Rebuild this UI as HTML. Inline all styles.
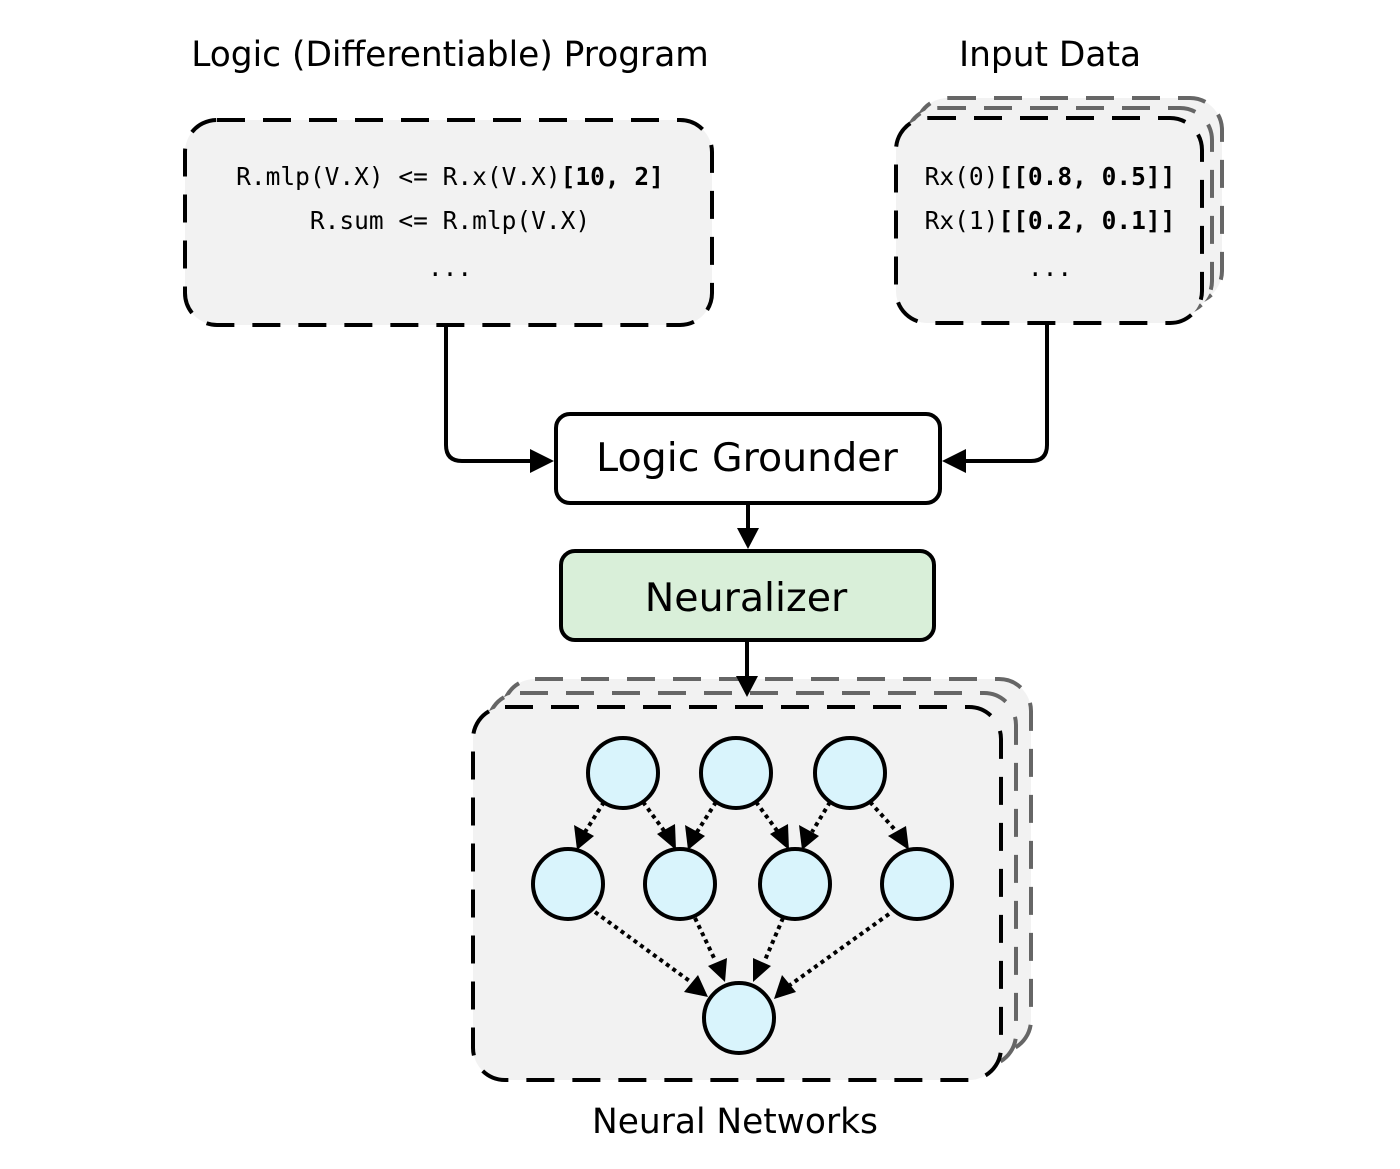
<!DOCTYPE html>
<html><head><meta charset="utf-8"><style>
html,body{margin:0;padding:0;background:#fff;}
svg{display:block;}
.t{font-family:"DejaVu Sans","Liberation Sans",sans-serif;fill:#000;}
.m{font-family:"DejaVu Sans Mono","Liberation Mono",monospace;font-size:24.5px;fill:#000;}
</style></head><body>
<svg width="1400" height="1169" viewBox="0 0 1400 1169" xmlns="http://www.w3.org/2000/svg">
<rect width="1400" height="1169" fill="#fff"/>
<text class="t" x="450" y="66" font-size="34.4" text-anchor="middle">Logic (Differentiable) Program</text>
<text class="t" x="1050" y="66" font-size="34.4" text-anchor="middle">Input Data</text>
<text class="t" x="735" y="1133" font-size="34.4" text-anchor="middle">Neural Networks</text>

<rect x="185" y="120" width="527" height="205" rx="32" fill="#f2f2f2" stroke="#000" stroke-width="4" stroke-dasharray="28 18"/>
<text class="m" x="450" y="185" text-anchor="middle">R.mlp(V.X) &lt;= R.x(V.X)<tspan font-weight="bold">[10, 2]</tspan></text>
<text class="m" x="450" y="229" text-anchor="middle">R.sum &lt;= R.mlp(V.X)</text>
<text class="m" x="450" y="276" text-anchor="middle">...</text>

<rect x="916" y="98" width="306" height="205" rx="32" fill="#f2f2f2" stroke="#666" stroke-width="4" stroke-dasharray="28 18"/>
<rect x="906" y="108" width="306" height="205" rx="32" fill="#f2f2f2" stroke="#666" stroke-width="4" stroke-dasharray="28 18"/>
<rect x="896" y="118" width="306" height="205" rx="32" fill="#f2f2f2" stroke="#000" stroke-width="4" stroke-dasharray="28 18"/>
<text class="m" x="1050" y="185" text-anchor="middle">Rx(0)<tspan font-weight="bold">[[0.8, 0.5]]</tspan></text>
<text class="m" x="1050" y="229" text-anchor="middle">Rx(1)<tspan font-weight="bold">[[0.2, 0.1]]</tspan></text>
<text class="m" x="1050" y="276" text-anchor="middle">...</text>

<path d="M446 325 V445 Q446 461 462 461 H534" fill="none" stroke="#000" stroke-width="4"/>
<polygon points="554,461 530,449 530,473" fill="#000"/>
<path d="M1047 323 V445 Q1047 461 1031 461 H962" fill="none" stroke="#000" stroke-width="4"/>
<polygon points="942,461 966,449 966,473" fill="#000"/>

<rect x="556" y="414" width="384" height="89" rx="14" fill="#fff" stroke="#000" stroke-width="4"/>
<text class="t" x="747" y="471" font-size="39.5" text-anchor="middle">Logic Grounder</text>

<path d="M748 503 V530" stroke="#000" stroke-width="4"/>
<polygon points="748,549 737,528 759,528" fill="#000"/>

<rect x="561" y="551" width="373" height="89" rx="14" fill="#d9efd9" stroke="#000" stroke-width="4"/>
<text class="t" x="746" y="611" font-size="39.5" text-anchor="middle">Neuralizer</text>

<rect x="503" y="679" width="528" height="373" rx="32" fill="#f2f2f2" stroke="#666" stroke-width="4" stroke-dasharray="28 18"/>
<rect x="488" y="693" width="528" height="373" rx="32" fill="#f2f2f2" stroke="#666" stroke-width="4" stroke-dasharray="28 18"/>
<rect x="473" y="707" width="528" height="373" rx="32" fill="#f2f2f2" stroke="#000" stroke-width="4" stroke-dasharray="28 18"/>

<path d="M747 640 V678" stroke="#000" stroke-width="4"/>
<polygon points="747,697 736,676 758,676" fill="#000"/>

<g stroke="#000" stroke-width="4" stroke-dasharray="4 4" fill="none">
<path d="M604 802 L585 832"/><path d="M643 802 L665 832"/>
<path d="M716 802 L697 832"/><path d="M756 802 L778 832"/>
<path d="M830 802 L812 832"/><path d="M870 802 L897 832"/>
<path d="M595 912 L695 985"/><path d="M695 918 L715 960"/>
<path d="M783 918 L765 960"/><path d="M889 914 L790 985"/>
</g>
<g fill="#000">
<polygon points="577,850 574,825 594,836"/>
<polygon points="676,850 657,834 675,824"/>
<polygon points="688,850 685,825 705,836"/>
<polygon points="789,850 770,834 788,824"/>
<polygon points="802,850 799,825 819,836"/>
<polygon points="909,850 888,836 906,826"/>
<polygon points="708,997 684,992 698,975"/>
<polygon points="725,982 708,966 727,958"/>
<polygon points="753,982 753,958 771,966"/>
<polygon points="774,999 782,975 796,992"/>
</g>

<g fill="#d9f4fc" stroke="#000" stroke-width="4">
<circle cx="623" cy="773" r="35"/><circle cx="736" cy="773" r="35"/><circle cx="850" cy="773" r="35"/>
<circle cx="568" cy="884" r="35"/><circle cx="680" cy="884" r="35"/><circle cx="795" cy="884" r="35"/><circle cx="917" cy="884" r="35"/>
<circle cx="739" cy="1018" r="35"/>
</g>
</svg>
</body></html>
